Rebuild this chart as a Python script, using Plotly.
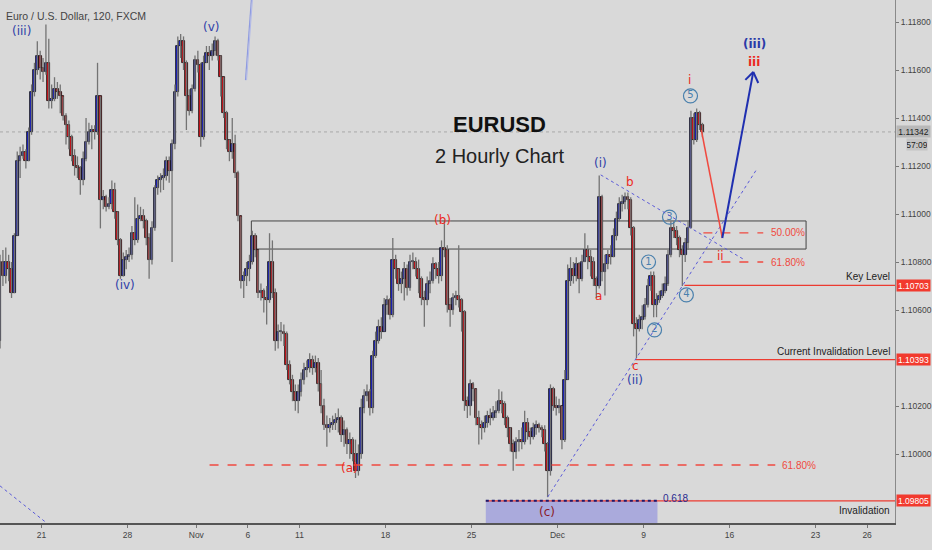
import plotly.graph_objects as go

FONT = "Liberation Sans Narrow, Arial Narrow, Liberation Sans, Arial, sans-serif"

# ---- x axis (trading-day index, Oct 21 2019 = 0, weekends removed) ----
tick_days = [0, 5, 9, 12, 15, 20, 25, 30, 35, 40, 45, 48]
tick_labels = ["21", "28", "Nov", "6", "11", "18", "25", "Dec", "9", "16", "23", "26"]
# ---- y axis ticks (those hidden behind price tags are omitted) ----
price_ticks = [1.100, 1.102, 1.106, 1.108, 1.110, 1.112, 1.114, 1.116, 1.118]

# ---- candle data (4-hour sampling of the 2h chart) ----
first_bar_day = -2.41
bars_per_day = 6
first_open = 1.1047
closes = [
    1.1080, 1.1074, 1.1080, 1.1077, 1.1067, 1.1091, 1.1122, 1.1124, 1.1126, 1.1122,
    1.1134, 1.1151, 1.1160, 1.1166, 1.1161, 1.1159, 1.1163, 1.1147, 1.1148, 1.1152,
    1.1151, 1.1149, 1.1141, 1.1137, 1.1132, 1.1124, 1.1120, 1.1119, 1.1114, 1.1123,
    1.1130, 1.1134, 1.1135, 1.1134, 1.1149, 1.1106, 1.1107, 1.1103, 1.1104, 1.1110,
    1.1101, 1.1089, 1.1074, 1.1081, 1.1082, 1.1083, 1.1092, 1.1089, 1.1098, 1.1099,
    1.1097, 1.1090, 1.1081, 1.1094, 1.1111, 1.1114, 1.1115, 1.1116, 1.1122, 1.1118,
    1.1129, 1.1151, 1.1170, 1.1172, 1.1163, 1.1149, 1.1143, 1.1152, 1.1164, 1.1162,
    1.1132, 1.1163, 1.1167, 1.1166, 1.1168, 1.1172, 1.1166, 1.1157, 1.1142, 1.1131,
    1.1126, 1.1129, 1.1117, 1.1099, 1.1072, 1.1074, 1.1077, 1.1080, 1.1091, 1.1085,
    1.1067, 1.1068, 1.1065, 1.1064, 1.1080, 1.1067, 1.1047, 1.1051, 1.1051, 1.1050,
    1.1037, 1.1031, 1.1026, 1.1022, 1.1026, 1.1031, 1.1035, 1.1036, 1.1039, 1.1036,
    1.1038, 1.1029, 1.1020, 1.1012, 1.1011, 1.1012, 1.1013, 1.1014, 1.1015, 1.1008,
    1.1010, 1.1004, 1.1006, 1.1000, 1.0993, 1.1000, 1.1019, 1.1024, 1.1026, 1.1019,
    1.1041, 1.1047, 1.1053, 1.1051, 1.1062, 1.1064, 1.1058, 1.1081, 1.1077, 1.1071,
    1.1073, 1.1077, 1.1069, 1.1080, 1.1080, 1.1077, 1.1073, 1.1065, 1.1064, 1.1071,
    1.1072, 1.1079, 1.1077, 1.1074, 1.1086, 1.1085, 1.1062, 1.1060, 1.1065, 1.1066,
    1.1064, 1.1059, 1.1022, 1.1020, 1.1029, 1.1027, 1.1015, 1.1012, 1.1011, 1.1013,
    1.1016, 1.1015, 1.1017, 1.1018, 1.1022, 1.1021, 1.1015, 1.1011, 1.1004, 1.1001,
    1.1005, 1.1006, 1.1005, 1.1013, 1.1009, 1.1007, 1.1011, 1.1012, 1.1011, 1.1010,
    1.1004, 1.0993, 1.1027, 1.1020, 1.1019, 1.1020, 1.1006, 1.1031, 1.1072, 1.1077,
    1.1074, 1.1079, 1.1073, 1.1080, 1.1085, 1.1082, 1.1080, 1.1073, 1.1070, 1.1107,
    1.1076, 1.1079, 1.1083, 1.1082, 1.1091, 1.1098, 1.1104, 1.1105, 1.1107, 1.1106,
    1.1094, 1.1054, 1.1052, 1.1056, 1.1057, 1.1062, 1.1070, 1.1074, 1.1062, 1.1064,
    1.1066, 1.1068, 1.1071, 1.1083, 1.1094, 1.1093, 1.1090, 1.1085, 1.1083, 1.1088,
    1.1094, 1.1140, 1.1131, 1.1142, 1.1137, 1.11342,
]
highs = [
    1.1083, 1.1085, 1.1086, 1.1083, 1.1080, 1.1092, 1.1126, 1.1128, 1.1129, 1.1127,
    1.1136, 1.1154, 1.1163, 1.1172, 1.1168, 1.1165, 1.1179, 1.1173, 1.1154, 1.1157,
    1.1155, 1.1154, 1.1149, 1.1142, 1.1139, 1.1133, 1.1127, 1.1124, 1.1120, 1.1126,
    1.1140, 1.1138, 1.1137, 1.1137, 1.1163, 1.1149, 1.1110, 1.1108, 1.1107, 1.1114,
    1.1113, 1.1101, 1.1090, 1.1084, 1.1085, 1.1086, 1.1095, 1.1107, 1.1104, 1.1103,
    1.1102, 1.1098, 1.1092, 1.1097, 1.1112, 1.1116, 1.1117, 1.1119, 1.1124, 1.1124,
    1.1131, 1.1154, 1.1174, 1.1175, 1.1174, 1.1164, 1.1152, 1.1154, 1.1166, 1.1168,
    1.1163, 1.1166, 1.1170, 1.1170, 1.1171, 1.1174, 1.1173, 1.1166, 1.1157, 1.1143,
    1.1131, 1.1140, 1.1133, 1.1118, 1.1099, 1.1076, 1.1080, 1.1083, 1.1093, 1.1092,
    1.1085, 1.1071, 1.1069, 1.1070, 1.1092, 1.1089, 1.1069, 1.1054, 1.1055, 1.1054,
    1.1051, 1.1039, 1.1033, 1.1029, 1.1029, 1.1034, 1.1038, 1.1039, 1.1042, 1.1041,
    1.1041, 1.1040, 1.1035, 1.1023, 1.1016, 1.1015, 1.1016, 1.1017, 1.1019, 1.1016,
    1.1014, 1.1011, 1.1009, 1.1007, 1.1006, 1.1004, 1.1023, 1.1027, 1.1029, 1.1027,
    1.1043, 1.1051, 1.1056, 1.1057, 1.1065, 1.1066, 1.1065, 1.1090, 1.1083, 1.1077,
    1.1076, 1.1080, 1.1079, 1.1083, 1.1084, 1.1082, 1.1081, 1.1074, 1.1068, 1.1074,
    1.1076, 1.1082, 1.1080, 1.1080, 1.1089, 1.1097, 1.1087, 1.1065, 1.1067, 1.1068,
    1.1087, 1.1065, 1.1060, 1.1024, 1.1031, 1.1030, 1.1027, 1.1018, 1.1014, 1.1016,
    1.1018, 1.1019, 1.1020, 1.1022, 1.1027, 1.1026, 1.1022, 1.1016, 1.1011, 1.1006,
    1.1007, 1.1010, 1.1011, 1.1018, 1.1015, 1.1011, 1.1013, 1.1014, 1.1013, 1.1012,
    1.1012, 1.1005, 1.1029, 1.1028, 1.1024, 1.1023, 1.1020, 1.1035, 1.1079, 1.1082,
    1.1080, 1.1082, 1.1080, 1.1083, 1.1092, 1.1087, 1.1085, 1.1082, 1.1074, 1.1116,
    1.1108, 1.1083, 1.1085, 1.1087, 1.1094, 1.1101, 1.1107, 1.1108, 1.1109, 1.1109,
    1.1107, 1.1095, 1.1057, 1.1058, 1.1062, 1.1065, 1.1073, 1.1076, 1.1076, 1.1067,
    1.1068, 1.1071, 1.1074, 1.1085, 1.1097, 1.1097, 1.1095, 1.1091, 1.1087, 1.1090,
    1.1097, 1.1143, 1.1142, 1.1144, 1.1143, 1.1138,
]
lows = [
    1.1044, 1.1070, 1.1071, 1.1072, 1.1065, 1.1067, 1.1113, 1.1115, 1.1123, 1.1119,
    1.1122, 1.1133, 1.1149, 1.1158, 1.1156, 1.1155, 1.1158, 1.1144, 1.1144, 1.1147,
    1.1148, 1.1142, 1.1139, 1.1129, 1.1127, 1.1122, 1.1116, 1.1115, 1.1108, 1.1112,
    1.1122, 1.1129, 1.1127, 1.1131, 1.1133, 1.1094, 1.1102, 1.1101, 1.1102, 1.1102,
    1.1098, 1.1087, 1.1073, 1.1076, 1.1077, 1.1080, 1.1081, 1.1087, 1.1088, 1.1097,
    1.1094, 1.1087, 1.1073, 1.1079, 1.1093, 1.1108, 1.1109, 1.1110, 1.1114, 1.1113,
    1.1080, 1.1127, 1.1149, 1.1165, 1.1160, 1.1135, 1.1141, 1.1142, 1.1151, 1.1159,
    1.1128, 1.1131, 1.1163, 1.1160, 1.1164, 1.1166, 1.1164, 1.1149, 1.1140, 1.1127,
    1.1122, 1.1123, 1.1115, 1.1097, 1.1069, 1.1065, 1.1070, 1.1072, 1.1079, 1.1082,
    1.1065, 1.1064, 1.1059, 1.1054, 1.1063, 1.1065, 1.1043, 1.1044, 1.1047, 1.1045,
    1.1035, 1.1029, 1.1022, 1.1018, 1.1017, 1.1024, 1.1029, 1.1032, 1.1034, 1.1033,
    1.1034, 1.1026, 1.1017, 1.1010, 1.1003, 1.1009, 1.1010, 1.1010, 1.1009, 1.1005,
    1.1003, 1.1000, 1.0998, 1.0997, 1.0990, 1.0991, 1.0998, 1.1017, 1.1022, 1.1016,
    1.1017, 1.1040, 1.1046, 1.1048, 1.1054, 1.1058, 1.1056, 1.1057, 1.1073, 1.1068,
    1.1067, 1.1064, 1.1066, 1.1068, 1.1077, 1.1074, 1.1067, 1.1062, 1.1053, 1.1062,
    1.1067, 1.1071, 1.1073, 1.1071, 1.1072, 1.1082, 1.1059, 1.1053, 1.1058, 1.1062,
    1.1061, 1.1051, 1.1018, 1.1015, 1.1016, 1.1022, 1.1012, 1.1004, 1.1006, 1.1009,
    1.1011, 1.1012, 1.1014, 1.1015, 1.1017, 1.1017, 1.1012, 1.1007, 1.1001, 1.0993,
    1.0998, 1.1001, 1.1002, 1.1004, 1.1006, 1.1004, 1.1006, 1.1008, 1.1009, 1.1007,
    1.1001, 1.0982, 1.0991, 1.1018, 1.1016, 1.1017, 1.1002, 1.1005, 1.1031, 1.1070,
    1.1071, 1.1072, 1.1067, 1.1072, 1.1080, 1.1077, 1.1074, 1.1070, 1.1065, 1.1069,
    1.1072, 1.1066, 1.1077, 1.1079, 1.1082, 1.1089, 1.1097, 1.1101, 1.1102, 1.1102,
    1.1091, 1.1049, 1.1040, 1.1051, 1.1052, 1.1056, 1.1061, 1.1068, 1.1057, 1.1057,
    1.1063, 1.1065, 1.1067, 1.1070, 1.1082, 1.1090, 1.1087, 1.1082, 1.1070, 1.1080,
    1.1085, 1.1094, 1.1129, 1.1130, 1.1135, 1.1132,
]

# key price levels
last_price = 1.11342
key_level = 1.10703
current_invalidation = 1.10393
invalidation = 1.09805
fib50 = 1.10921
fib618 = 1.10800
fib618_low = 1.09954

x_range = [-2.413, 49.62]
y_range = [1.097125, 1.118917]

opens = [first_open] + closes[:-1]
xs = [first_bar_day + i / bars_per_day for i in range(len(closes))]
his = [max(h, o, c) for h, o, c in zip(highs, opens, closes)]
los = [min(l, o, c) for l, o, c in zip(lows, opens, closes)]

fig = go.Figure()

# wicks
wx, wy = [], []
for x, h, l in zip(xs, his, los):
    wx += [x, x, None]
    wy += [l, h, None]
fig.add_trace(go.Scatter(x=wx, y=wy, mode="lines", line=dict(color="#737373", width=1.3),
                         hoverinfo="skip"))

# bodies
base = [min(o, c) for o, c in zip(opens, closes)]
height = [max(abs(c - o), 0.00003) for o, c in zip(opens, closes)]
colors = ["#1c22c0" if c >= o else "#cc141c" for o, c in zip(opens, closes)]
fig.add_trace(go.Bar(x=xs, y=height, base=base, width=0.95 / bars_per_day,
                     marker=dict(color=colors, line=dict(color="#111111", width=0.8))))

# circled wave numbers
circ_x = [35.29, 35.64, 36.51, 37.49, 37.73]
circ_y = [1.10800, 1.10517, 1.10987, 1.10663, 1.11492]
circ_t = ["1", "2", "3", "4", "5"]
fig.add_trace(go.Scatter(x=circ_x, y=circ_y, mode="markers+text", text=circ_t,
                         textposition="middle center",
                         textfont=dict(color="#4a80ad", size=10, family="DejaVu Sans"),
                         marker=dict(symbol="circle", size=14, color="rgba(0,0,0,0)",
                                     line=dict(color="#4a80ad", width=1.2)),
                         hoverinfo="skip"))

shapes = []
def line(x0, y0, x1, y1, color, width=1, dash="solid", layer="above"):
    shapes.append(dict(type="line", xref="x", yref="y", x0=x0, y0=y0, x1=x1, y1=y1,
                       line=dict(color=color, width=width, dash=dash), layer=layer))

# current price dotted line
line(x_range[0], last_price, x_range[1], last_price, "#a8a8a8", 1, "dot", "below")
# resistance box
shapes.append(dict(type="rect", xref="x", yref="y", x0=12.20, x1=44.45, y0=1.10854, y1=1.10971,
                   line=dict(color="#444444", width=1), fillcolor="rgba(0,0,0,0)", layer="below"))
# lavender fib zone
shapes.append(dict(type="rect", xref="x", yref="y", x0=25.83, x1=35.81, y0=y_range[0], y1=invalidation,
                   line=dict(width=0), fillcolor="#aaaadc", layer="below"))
# red level lines
line(25.83, invalidation, x_range[1], invalidation, "#ec3b30", 1.2)
line(25.83, invalidation, 35.81, invalidation, "#1a1a70", 2, "dot")
line(37.38, key_level, x_range[1], key_level, "#ec3b30", 1.2)
line(34.54, current_invalidation, x_range[1], current_invalidation, "#ec3b30", 1.2)
# fib retracement dashes
line(38.48, fib50, 41.96, fib50, "#f04a40", 1.3, "dash")
line(38.48, fib618, 41.96, fib618, "#f04a40", 1.3, "dash")
line(9.77, fib618_low, 42.66, fib618_low, "#f04a40", 1.6, "dash")
# dotted trend lines
line(29.43, 1.09821, 41.55, 1.11183, "#5a5ad8", 1, "dot")
line(32.51, 1.11163, 40.80, 1.10812, "#5a5ad8", 1, "dot")
line(-2.41, 1.09867, 0.31, 1.09712, "#5a5ad8", 1, "dot")
# thin light-blue line at top
line(11.86, 1.11558, 12.20, 1.11892, "#8f9be0", 1.2)
line(11.92, 1.11558, 12.26, 1.11892, "#b0b8ea", 1)
# projection
line(38.36, 1.11350, 39.58, 1.10900, "#f04a40", 1.5)
line(39.58, 1.10900, 41.38, 1.11592, "#1f2fb0", 2)
line(40.92, 1.11559, 41.38, 1.11592, "#1f2fb0", 2)
line(41.67, 1.11546, 41.38, 1.11592, "#1f2fb0", 2)

ann = []
def txt(x, y, s, color, size=12, family="DejaVu Sans", **kw):
    d = dict(x=x, y=y, xref="x", yref="y", text=s, showarrow=False,
             font=dict(color=color, size=size, family=family))
    d.update(kw)
    ann.append(d)

BLUE = "#3040a8"
RED = "#ec2a22"
txt(-1.14, 1.11763, "(iii)", BLUE)
txt(9.88, 1.11779, "(v)", BLUE)
txt(4.84, 1.10704, "(iv)", BLUE)
txt(32.51, 1.11213, "(i)", BLUE)
txt(34.48, 1.10308, "(ii)", BLUE)
txt(41.44, 1.11708, "<b>(iii)</b>", "#2a3aa8", 12)
txt(41.44, 1.11633, "<b>iii</b>", RED, 12)
txt(37.67, 1.11558, "i", RED)
txt(23.34, 1.10974, "(b)", RED)
txt(17.88, 1.09942, "(a)", RED)
txt(29.37, 1.09758, "(c)", "#8a1c28")
txt(32.39, 1.10658, "a", RED)
txt(34.19, 1.11133, "b", RED)
txt(34.54, 1.10367, "c", RED)
txt(39.47, 1.10825, "ii", RED)
txt(26.65, 1.11375, "<b>EURUSD</b>", "#111111", 22, FONT)
txt(26.65, 1.11242, "2 Hourly Chart", "#222222", 20, FONT)
txt(42.31, fib50, "50.00%", "#f04a40", 10, FONT, xanchor="left")
txt(42.31, fib618, "61.80%", "#f04a40", 10, FONT, xanchor="left")
txt(42.95, fib618_low, "61.80%", "#f04a40", 10, FONT, xanchor="left")
txt(36.04, invalidation, "0.618", "#2a2a90", 10, FONT, xanchor="left", yshift=2)

# title
ann.append(dict(x=0.004, y=1 - 16 / 523, xref="paper", yref="paper", xanchor="left", yanchor="middle",
                text="Euro / U.S. Dollar, 120, FXCM", showarrow=False,
                font=dict(color="#444444", size=10.5, family=FONT)))

# right-hand level captions
for yv, s, anchor, shift in [(key_level, "Key Level", "bottom", 1),
                             (current_invalidation, "Current Invalidation Level", "bottom", 1),
                             (invalidation, "Invalidation", "top", -2)]:
    ann.append(dict(x=1, y=yv, xref="paper", yref="y", xanchor="right", yanchor=anchor,
                    xshift=-3, yshift=shift, text=s, showarrow=False,
                    font=dict(color="#222222", size=10, family=FONT)))

# price tags on the axis
for yv, bg, fg in [(key_level, "#f23a2e", "white"), (current_invalidation, "#f23a2e", "white"),
                   (invalidation, "#f23a2e", "white"), (last_price, "#b8b8b8", "#222222")]:
    ann.append(dict(x=1, y=yv, xref="paper", yref="y", xanchor="left", yanchor="middle",
                    xshift=1, text=f"{yv:.5f}", showarrow=False, bgcolor=bg, width=33, height=11,
                    borderpad=0, font=dict(color=fg, size=8.5, family=FONT)))
ann.append(dict(x=1, y=last_price, xref="paper", yref="y", xanchor="left", yanchor="middle",
                xshift=11, yshift=-13, text="57:09", showarrow=False, bgcolor="#c4c4c4",
                width=20, height=11, borderpad=0, font=dict(color="#222222", size=8.5, family=FONT)))

fig.update_layout(
    width=932, height=550,
    margin=dict(l=0, r=35, t=0, b=27),
    paper_bgcolor="#d9d9d9", plot_bgcolor="#d9d9d9",
    showlegend=False, barmode="overlay", bargap=0,
    shapes=shapes, annotations=ann,
    xaxis=dict(range=x_range, tickvals=tick_days, ticktext=tick_labels, showgrid=False,
               zeroline=False, showline=True, linecolor="#555555", linewidth=2,
               ticks="outside", ticklen=3, tickcolor="#777777",
               tickfont=dict(size=8.5, color="#444444", family=FONT)),
    yaxis=dict(range=y_range, side="right", tickvals=price_ticks, tickformat=".5f",
               showgrid=False, zeroline=False, showline=True, linecolor="#8a8a8a", linewidth=1,
               ticks="outside", ticklen=3, tickcolor="#777777",
               tickfont=dict(size=8.5, color="#444444", family=FONT)),
)

fig.write_html("out.html", config={"displayModeBar": False},
               post_script="document.body.style.margin='0';document.body.style.overflow='hidden';")
